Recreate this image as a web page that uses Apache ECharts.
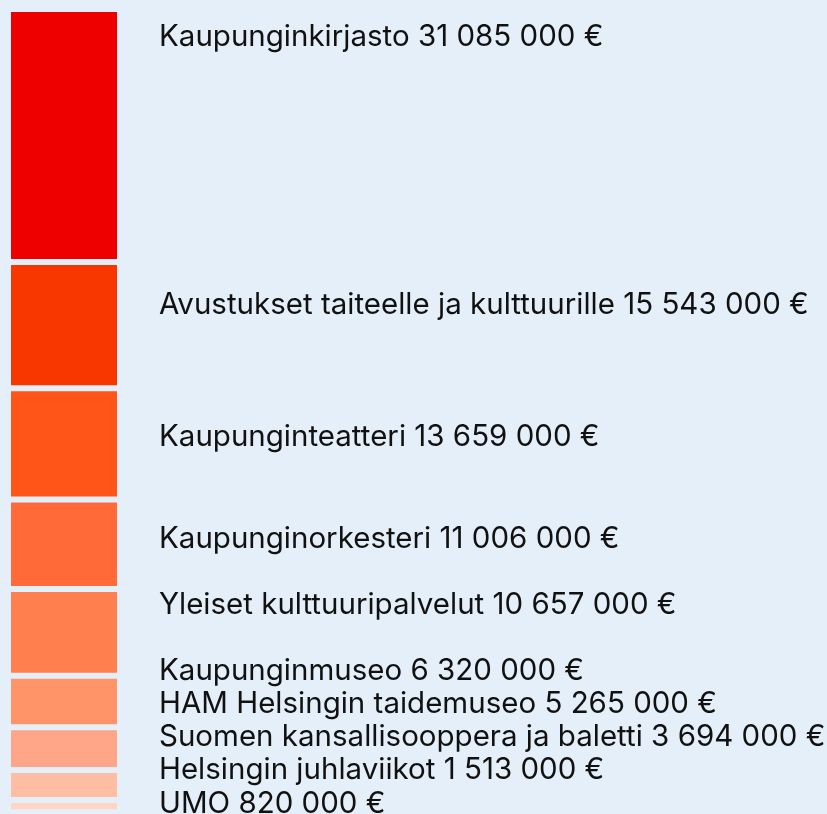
<!DOCTYPE html>
<html>
<head>
<meta charset="utf-8">
<script src="https://cdn.jsdelivr.net/npm/echarts@6/dist/echarts.min.js"></script>
<style>
    html, body { margin: 0; padding: 0; background: #e5eff9; }
    #chart { width: 827px; height: 814px; }
</style>
</head>
<body>
<div id="chart"></div>
<script>
// Kulttuurin määrärahat, euroa
const names = [
    'Kaupunginkirjasto',
    'Avustukset taiteelle ja kulttuurille',
    'Kaupunginteatteri',
    'Kaupunginorkesteri',
    'Yleiset kulttuuripalvelut',
    'Kaupunginmuseo',
    'HAM Helsingin taidemuseo',
    'Suomen kansallisooppera ja baletti',
    'Helsingin juhlaviikot',
    'UMO'
]
const amounts = [31085000, 15543000, 13659000, 11006000, 10657000, 6320000, 5265000, 3694000, 1513000, 820000]

// värit ja tekstien pystysiirrot (suhteessa palan yläreunaan)
const colors = ['#ee0000', '#f83700', '#ff5519', '#ff6a38', '#ff7f4f', '#ff9469', '#ffa688', '#ffbea4', '#ffd6c6', '#ffe8de']
const labelDy = [28.1, 43.6, 49.1, 39.7, 15.9, -4.3, -23, -32.6, -29.6, -8.2]

const bg = '#e5eff9'

// euroa muotoon 31 085 000 €
function fmt(v) {
    return String(v).replace(/\B(?=(\d{3})+(?!\d))/g, ' ') + ' €'
}

const total = amounts.reduce((a, b) => a + b, 0)

const seriesData = names.map((n, i) => {
    return {
        type: 'bar',
        name: n,
        stack: 'all',
        barWidth: '100%',
        data: [amounts[i]],
        itemStyle: {
            color: colors[i],
            borderColor: bg,
            borderWidth: 3
        },
        label: {
            show: true,
            position: [151, labelDy[i]],
            align: 'left',
            verticalAlign: 'middle',
            fontFamily: 'Inter',
            fontSize: 29.5,
            color: '#111111',
            formatter: () => n + ' ' + fmt(amounts[i])
        },
        emphasis: { disabled: true },
        silent: true
    }
})

const cs = echarts.init(document.getElementById('chart'))
const option = {
    backgroundColor: bg,
    animation: false,
    grid: {
        left: 8,
        top: 9,
        width: 112,
        height: 810,
        outerBoundsMode: 'none'
    },
    xAxis: {
        type: 'category',
        data: [''],
        show: false
    },
    yAxis: {
        type: 'value',
        inverse: true,
        min: 0,
        max: total,
        show: false
    },
    series: seriesData
}
cs.setOption(option)
</script>
</body>
</html>
